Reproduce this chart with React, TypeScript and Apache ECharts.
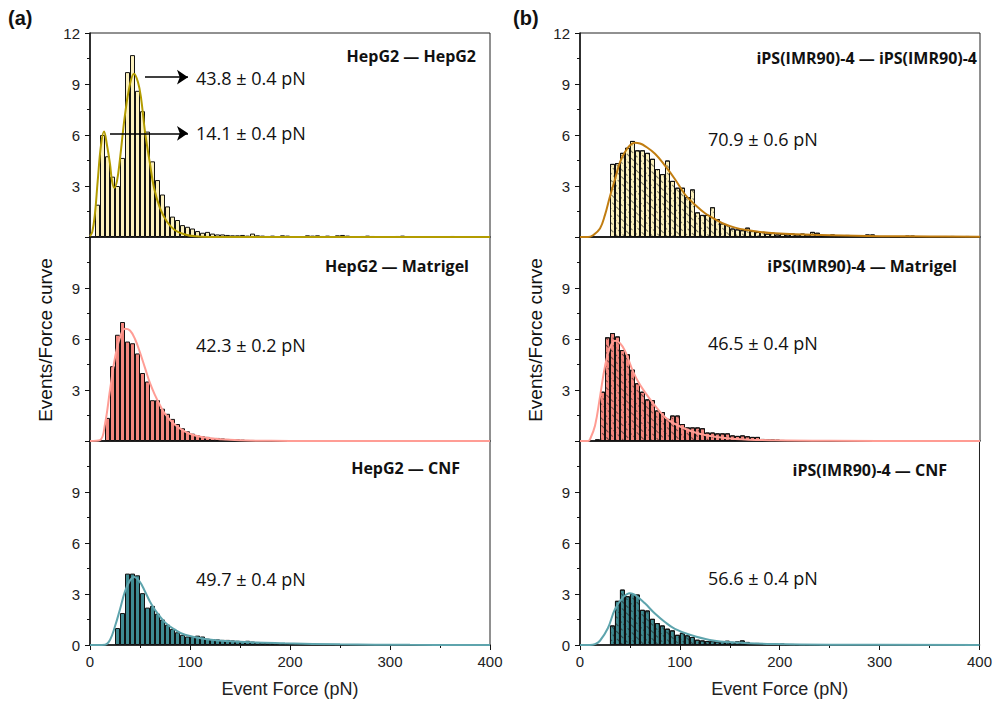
import React, { useEffect, useRef } from 'react';
import * as echarts from 'echarts';

// ---------- data ----------
const BIN = 5;
const xTicks = [0, 100, 200, 300, 400];
const yTicks = [0, 3, 6, 9, 12];

const aTopStart = 5;
const aTopCounts = [1.9, 6.0, 4.75, 3.55, 3.0, 4.65, 9.7, 10.7, 8.6, 7.4, 6.2, 4.45, 3.35, 2.5, 1.8, 1.2, 1.0, 0.7, 0.6, 0.5,
  0.35, 0.25, 0.3, 0.2, 0.15, 0.15, 0.12, 0.1, 0.1, 0.12, 0.08, 0.2, 0.1, 0.08, 0.06, 0.08, 0.05, 0.1, 0.08, 0.05,
  0, 0, 0.1, 0.08, 0.1, 0.06, 0.08, 0.05, 0.1, 0.12, 0.08, 0.05, 0, 0.06, 0.08, 0.06, 0.05, 0, 0, 0,
  0.06, 0.08, 0.05, 0, 0, 0, 0, 0, 0, 0, 0.05, 0.06, 0.05];
const aTopFit: [number, number][] = [[0, 0.05], [2.3, 0.3], [5, 1.4], [7.7, 3.3], [11, 5.4], [14, 6.2], [17, 5.4], [20, 4.3], [22, 3.3],
  [24.3, 2.9], [27, 3.3], [30, 4.6], [35, 7.2], [40, 9.0], [44, 9.6], [48, 9.1], [51, 8.2], [55, 6.2], [60, 4.3], [64, 2.9],
  [70, 1.7], [77, 0.9], [85, 0.4], [95, 0.15], [105, 0.04], [120, 0], [400, 0]];
const aTopArrows: [number, number, number][] = [[55, 98, 9.4], [20, 98, 6.1]]; // [fromX, toX, y]

const aMidStart = 15;
const aMidCounts = [1.36, 4.4, 6.25, 7.0, 5.85, 5.75, 5.15, 4.0, 3.5, 2.4, 2.4, 1.9, 1.6, 1.3, 1.0, 0.75, 0.57, 0.43, 0.33, 0.28,
  0.24, 0.18, 0.18, 0.15, 0.12, 0.1, 0.1, 0.08, 0.06, 0.06, 0.05, 0.05, 0.04, 0.03, 0.03, 0, 0, 0, 0, 0,
  0, 0, 0, 0, 0, 0, 0.04, 0.04, 0, 0, 0, 0, 0.04, 0, 0, 0, 0, 0, 0, 0, 0, 0, 0, 0, 0.04];
const aMidFit: [number, number][] = [[0, 0], [10, 0.05], [15, 1.0], [20, 3.0], [25, 4.9], [30, 6.1], [35, 6.6], [40, 6.5], [45, 6.0],
  [50, 5.2], [55, 4.3], [60, 3.4], [65, 2.7], [70, 2.1], [75, 1.6], [85, 0.95], [95, 0.55], [105, 0.32], [115, 0.2],
  [130, 0.1], [150, 0.04], [180, 0.01], [200, 0], [400, 0]];

const aBotStart = 25;
const aBotCounts = [1.0, 1.88, 4.2, 4.2, 4.1, 3.05, 2.2, 2.3, 1.85, 1.5, 1.2, 0.95, 0.75, 0.6, 0.5, 0.5, 0.55, 0.5, 0.37, 0.35,
  0.33, 0.3, 0.3, 0.27, 0.25, 0.23, 0.25, 0.2, 0.18, 0.15, 0.15, 0.12, 0.12, 0.1, 0.12, 0.08, 0.1, 0.08, 0.06, 0.08,
  0.05, 0.06, 0.05, 0.04, 0.05, 0.04, 0.03];
const aBotFit: [number, number][] = [[0, 0], [15, 0.02], [20, 0.3], [25, 1.1], [30, 2.1], [35, 3.15], [40, 3.8], [44, 4.0], [50, 3.7],
  [55, 3.15], [60, 2.55], [65, 2.07], [75, 1.33], [85, 0.9], [95, 0.6], [115, 0.35], [145, 0.2], [195, 0.1], [250, 0.04],
  [320, 0.01], [400, 0]];

const bTopStart = 30;
const bTopCounts = [4.3, 4.35, 4.95, 5.25, 5.65, 5.1, 5.1, 4.95, 4.6, 4.0, 3.7, 4.5, 3.3, 2.9, 2.9, 2.35, 2.8, 1.45, 1.3, 1.3,
  1.75, 1.05, 0.8, 0.7, 0.5, 0.45, 0.4, 0.55, 0.35, 0.3, 0.3, 0.2, 0.25, 0.15, 0.2, 0.15, 0.2, 0.15, 0.2, 0.15,
  0.3, 0.25, 0.1, 0.1, 0.15, 0.05, 0.1, 0.12, 0.1, 0.1, 0.08, 0.15, 0.15, 0.05, 0.05, 0.05, 0, 0, 0.05, 0.08,
  0.08, 0, 0, 0, 0, 0, 0.05, 0.05, 0.06, 0.05, 0.05, 0.06, 0.05];
const bTopFit: [number, number][] = [[0, 0], [8, 0], [13, 0.1], [20, 0.5], [25, 1.3], [30, 2.4], [35, 3.4], [40, 4.4], [45, 5.0],
  [50, 5.4], [55, 5.55], [60, 5.5], [65, 5.35], [75, 4.9], [85, 4.2], [95, 3.4], [105, 2.5], [115, 1.9], [125, 1.4],
  [135, 1.05], [145, 0.75], [155, 0.55], [165, 0.42], [180, 0.3], [195, 0.22], [215, 0.16], [250, 0.1], [300, 0.05],
  [350, 0.03], [400, 0.02]];

const bMidStart = 15;
const bMidCounts = [0.1, 2.9, 6.1, 6.35, 6.15, 5.35, 5.1, 4.2, 3.4, 2.9, 2.45, 2.4, 1.8, 1.7, 1.3, 1.5, 1.5, 1.0, 0.8, 0.8,
  0.8, 0.75, 0.5, 0.5, 0.45, 0.45, 0.45, 0.33, 0.3, 0.33, 0.28, 0.24, 0.24, 0.12, 0.1, 0.1, 0.08, 0.06, 0.05, 0.04,
  0.04, 0.03, 0, 0, 0, 0, 0, 0, 0, 0, 0, 0, 0, 0, 0, 0.05, 0, 0.05, 0, 0, 0, 0, 0, 0, 0, 0, 0, 0, 0.05,
  0, 0, 0, 0, 0, 0, 0.05];
const bMidFit: [number, number][] = [[0, 0], [8, 0], [10, 0.1], [15, 0.9], [20, 2.6], [25, 4.4], [30, 5.5], [35, 5.9], [40, 5.75],
  [45, 5.3], [53, 4.1], [60, 3.3], [72, 2.3], [85, 1.4], [95, 1.0], [115, 0.5], [135, 0.25], [155, 0.12], [195, 0.04],
  [250, 0.01], [400, 0]];

const bBotStart = 30;
const bBotCounts = [1.15, 2.6, 3.26, 2.87, 3.0, 2.97, 2.07, 2.03, 1.54, 1.29, 1.15, 0.96, 0.86, 0.6, 0.72, 0.57, 0.47, 0.31,
  0.27, 0.23, 0.27, 0.21, 0.23, 0.25, 0.18, 0.21, 0.27, 0.18, 0.1, 0.12, 0.1, 0.08, 0.1, 0.06, 0.08, 0.05, 0.06,
  0.04, 0.05, 0.03, 0.04, 0.03];
const bBotFit: [number, number][] = [[0, 0], [10, 0], [15, 0.05], [20, 0.25], [28, 1.0], [35, 2.1], [43, 2.8], [50, 3.05],
  [55, 2.95], [65, 2.45], [75, 1.85], [85, 1.35], [95, 0.95], [110, 0.6], [130, 0.3], [155, 0.15], [195, 0.06],
  [250, 0.02], [400, 0]];

const titles = ['HepG2 \u2014 HepG2', 'HepG2 \u2014 Matrigel', 'HepG2 \u2014 CNF',
  'iPS(IMR90)-4 \u2014 iPS(IMR90)-4', 'iPS(IMR90)-4 \u2014 Matrigel', 'iPS(IMR90)-4 \u2014 CNF'];
const fitLabels = ['42.3 \u00b1 0.2 pN', '49.7 \u00b1 0.4 pN', '70.9 \u00b1 0.6 pN', '46.5 \u00b1 0.4 pN', '56.6 \u00b1 0.4 pN'];
const peakLabels = ['43.8 \u00b1 0.4 pN', '14.1 \u00b1 0.4 pN'];

// ---------- styling ----------
const YELLOW = '#fcf1bd';
const SALMON = '#f4877e';
const TEAL = '#3f8b92';
const LABEL_FONT = '"Liberation Sans", Arial, sans-serif';
const ANN_FONT = '"Open Sans", "Noto Sans", sans-serif';

const GRID_TOPS = [33, 237, 441];
const GRID_H = 204;
const GRID_LEFTS = [90, 580];
const GRID_W = 400;

const hatch = {
  symbol: 'rect',
  symbolSize: 1,
  color: 'rgba(20,20,20,0.55)',
  dashArrayX: [4, 2],
  dashArrayY: [1, 4],
  rotation: Math.PI / 4,
};

function toBins(start: number, counts: number[]) {
  return counts
    .map((c, i) => [start + BIN * i + BIN / 2, c])
    .filter((d) => d[0] < xTicks[xTicks.length - 1]);
}

const panels = [
  { start: aTopStart, counts: aTopCounts, fit: aTopFit, fill: YELLOW, line: '#b39c00', hatch: false },
  { start: aMidStart, counts: aMidCounts, fit: aMidFit, fill: SALMON, line: '#ff9d95', hatch: false },
  { start: aBotStart, counts: aBotCounts, fit: aBotFit, fill: TEAL, line: '#5ea4ad', hatch: false },
  { start: bTopStart, counts: bTopCounts, fit: bTopFit, fill: YELLOW, line: '#c17d11', hatch: true },
  { start: bMidStart, counts: bMidCounts, fit: bMidFit, fill: SALMON, line: '#ff9c93', hatch: true },
  { start: bBotStart, counts: bBotCounts, fit: bBotFit, fill: TEAL, line: '#5ea4ad', hatch: true },
];

export default function App() {
  const ref = useRef<HTMLDivElement>(null);
  useEffect(() => {
    if (!ref.current) return;
    const chart = echarts.init(ref.current, undefined, { renderer: 'svg' });

    const grids: any[] = [];
    const xAxes: any[] = [];
    const yAxes: any[] = [];
    const series: any[] = [];

    panels.forEach((p, i) => {
      const col = i < 3 ? 0 : 1;
      const row = i % 3;
      grids.push({
        left: GRID_LEFTS[col], top: GRID_TOPS[row], width: GRID_W, height: GRID_H,
        show: true, borderColor: '#222', borderWidth: 1, backgroundColor: 'transparent',
      });
      const isBottom = row === 2;
      xAxes.push({
        type: 'value', gridIndex: i, min: xTicks[0], max: xTicks[xTicks.length - 1], interval: 100,
        axisLine: { show: true, onZero: false, lineStyle: { color: '#111', width: 1.5 } },
        axisTick: { show: isBottom, inside: false, length: 5, lineStyle: { color: '#111' } },
        minorTick: { show: isBottom, splitNumber: 2, length: 3, lineStyle: { color: '#111' } },
        axisLabel: { show: isBottom, fontFamily: LABEL_FONT, fontSize: 15, color: '#222', margin: 9 },
        splitLine: { show: false },
        name: isBottom ? 'Event Force (pN)' : '',
        nameLocation: 'middle', nameGap: 35,
        nameTextStyle: { fontFamily: LABEL_FONT, fontSize: 18, color: '#222' },
      });
      yAxes.push({
        type: 'value', gridIndex: i, min: yTicks[0], max: yTicks[yTicks.length - 1], interval: 3,
        axisLine: { show: true, lineStyle: { color: '#111', width: 1.5 } },
        axisTick: { show: true, inside: false, length: 5, lineStyle: { color: '#111' } },
        minorTick: { show: true, splitNumber: 2, length: 3, lineStyle: { color: '#111' } },
        axisLabel: {
          fontFamily: LABEL_FONT, fontSize: 15, color: '#222', margin: 10,
          formatter: (v: number) => {
            if (row === 0 && v === 0) return '';
            if (row === 1 && (v === 0 || v === 12)) return '';
            if (row === 2 && v === 12) return '';
            return String(v);
          },
        },
        splitLine: { show: false },
      });
      const itemStyle: any = { color: p.fill, borderColor: '#111', borderWidth: 1 };
      if (p.hatch) itemStyle.decal = hatch;
      series.push({
        type: 'bar', xAxisIndex: i, yAxisIndex: i, data: toBins(p.start, p.counts),
        barWidth: '100%', itemStyle, z: 2,
      });
      const lineSeries: any = {
        type: 'line', xAxisIndex: i, yAxisIndex: i, data: p.fit, smooth: 0.4,
        showSymbol: false, symbol: 'none', lineStyle: { color: p.line, width: 2 }, z: 4,
      };
      if (i === 0) {
        lineSeries.markLine = {
          silent: true, symbol: ['none', 'arrow'], symbolSize: 11,
          lineStyle: { color: '#000', width: 1.5, type: 'solid' }, label: { show: false },
          data: aTopArrows.map(([x0, x1, y]) => [{ coord: [x0, y] }, { coord: [x1, y] }]),
        };
      }
      series.push(lineSeries);
    });

    const txt = (x: number, y: number, text: string, opts: any = {}) => ({
      type: 'text', x, y,
      style: {
        text, fill: '#111', font: opts.font || `18px ${ANN_FONT}`,
        textAlign: opts.align || 'left', textVerticalAlign: 'middle',
      },
      rotation: opts.rotation || 0,
    });
    const bold = `bold 16px ${ANN_FONT}`;
    const graphic: any[] = [
      txt(8, 18, '(a)', { font: `bold 20px ${LABEL_FONT}` }),
      txt(513, 18, '(b)', { font: `bold 20px ${LABEL_FONT}` }),
      txt(45, 340, 'Events/Force curve', { font: `19px ${LABEL_FONT}`, align: 'center', rotation: Math.PI / 2 }),
      txt(535, 340, 'Events/Force curve', { font: `19px ${LABEL_FONT}`, align: 'center', rotation: Math.PI / 2 }),
      txt(476, 56, titles[0], { font: bold, align: 'right' }),
      txt(469, 266, titles[1], { font: bold, align: 'right' }),
      txt(460, 468, titles[2], { font: bold, align: 'right' }),
      txt(977, 58, titles[3], { font: bold, align: 'right' }),
      txt(957, 266, titles[4], { font: bold, align: 'right' }),
      txt(947, 470, titles[5], { font: bold, align: 'right' }),
      txt(196, 78, peakLabels[0]),
      txt(196, 133, peakLabels[1]),
      txt(196, 345, fitLabels[0]),
      txt(196, 579, fitLabels[1]),
      txt(708, 139, fitLabels[2]),
      txt(708, 343, fitLabels[3]),
      txt(708, 578, fitLabels[4]),
    ];

    chart.setOption({
      animation: false,
      backgroundColor: '#fff',
      grid: grids,
      xAxis: xAxes,
      yAxis: yAxes,
      series,
      graphic,
    });
    return () => chart.dispose();
  }, []);
  return <div ref={ref} style={{ width: 995, height: 705, position: 'absolute', left: 0, top: 0 }} />;
}
